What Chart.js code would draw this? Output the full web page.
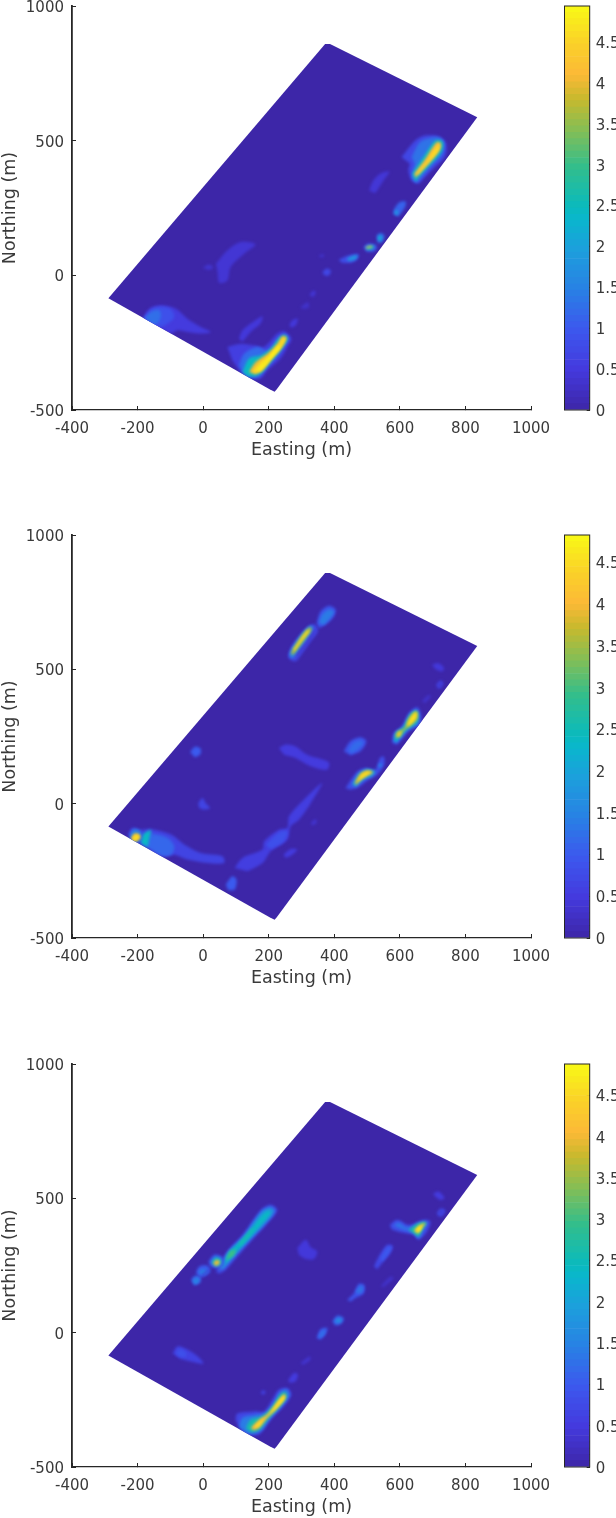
<!DOCTYPE html>
<html>
<head>
<meta charset="utf-8">
<script src="https://cdn.jsdelivr.net/npm/chart.js@4/dist/chart.umd.min.js"></script>
<style>
  html, body { margin: 0; padding: 0; background: #fff; }
  body { position: relative; width: 616px; height: 1518px; overflow: hidden; }
  canvas { position: absolute; }
</style>
</head>
<body>
<script>
const east_ticks = [-400, -200, 0, 200, 400, 600, 800, 1000];
const north_ticks = [-500, 0, 500, 1000];
const colourbar_ticks = [0, 0.5, 1, 1.5, 2, 2.5, 3, 3.5, 4, 4.5];
const colourbar_max = [4.94, 4.83, 4.88];

// survey outline, easting/northing pairs
const outline = [-289,-85, 372,859, 387,859, 836,587, 224,-424, 218,-432, 204,-424];

// contours: [value, [easting, northing, ...]], painted in the listed order
const contours_top = [
  [0.7, [605,439, 646,500, 676,519, 722,515, 742,488, 737,439, 707,402, 676,364, 656,340, 636,352, 626,389, 631,414]],
  [1.3, [636,439, 661,494, 692,510, 722,510, 735,488, 727,445, 697,408, 666,364, 651,346, 636,364, 646,414]],
  [2.4, [638,377, 671,439, 707,500, 730,498, 729,463, 697,416, 661,371, 648,348]],
  [4.1, [644,377, 676,429, 712,494, 725,491, 722,466, 689,416, 658,377, 648,362]],
  [4.6, [651,377, 681,420, 712,476, 721,486, 717,463, 685,416, 656,374]],
  [0.42, [506,315, 519,352, 540,377, 568,385, 550,352, 534,321, 524,305]],
  [1.1, [580,228, 583,247, 600,272, 618,274, 616,253, 595,218]],
  [1.8, [583,228, 587,243, 595,238, 593,222]],
  [1.2, [529,148, 540,157, 553,148, 547,124, 532,120]],
  [2.2, [532,136, 538,148, 545,142, 541,126]],
  [1.0, [489,105, 504,118, 529,111, 524,90, 499,87]],
  [2.5, [496,105, 509,111, 522,108, 514,96, 499,95]],
  [4.2, [496,105, 514,110, 516,105, 498,100]],
  [0.8, [413,58, 443,74, 474,78, 469,58, 448,46, 423,47]],
  [1.8, [438,62, 458,73, 472,73, 463,58, 443,53]],
  [0.7, [364,12, 377,25, 390,16, 382,-2, 369,0]],
  [0.35, [354,74, 367,78, 367,68, 355,68]],
  [0.4, [324,-74, 334,-58, 344,-62, 337,-80]],
  [0.5, [-184,-161, -164,-124, -129,-111, -83,-124, -48,-161, -7,-192, 23,-210, -7,-216, -48,-210, -78,-204, -98,-216, -139,-192]],
  [0.85, [-181,-158, -159,-127, -129,-117, -98,-127, -88,-155, -108,-179, -134,-192, -159,-179]],
  [1.25, [-179,-158, -159,-136, -134,-130, -129,-155, -144,-182, -164,-173]],
  [0.4, [39,43, 74,93, 115,124, 160,115, 125,80, 84,31, 74,-19, 49,-28, 44,12]],
  [0.35, [-1,28, 18,40, 31,28, 18,19]],
  [0.45, [109,-235, 120,-204, 145,-179, 181,-152, 175,-179, 145,-210, 120,-247]],
  [0.45, [263,-186, 272,-167, 289,-161, 282,-186, 269,-194]],
  [0.3, [297,-118, 320,-99, 322,-120, 302,-124]],
  [0.55, [74,-266, 115,-254, 155,-260, 186,-266, 226,-216, 247,-208, 269,-235, 257,-266, 236,-309, 196,-353, 175,-383, 145,-383, 115,-359, 89,-315]],
  [1.2, [109,-334, 125,-291, 165,-266, 196,-278, 231,-229, 249,-216, 262,-235, 247,-266, 221,-309, 191,-346, 170,-377, 140,-377, 120,-359]],
  [2.4, [120,-359, 140,-309, 175,-297, 206,-272, 234,-229, 252,-223, 257,-239, 236,-278, 206,-322, 181,-359, 160,-375, 135,-375]],
  [4.0, [140,-359, 160,-322, 196,-291, 226,-254, 241,-226, 254,-231, 241,-266, 211,-309, 181,-353, 160,-367]],
  [4.6, [150,-359, 170,-328, 201,-297, 226,-266, 245,-231, 252,-235, 236,-268, 206,-309, 178,-350, 160,-362]],
  [4.85, [166,-352, 196,-313, 231,-260, 235,-266, 201,-318, 170,-359]]
];

const contours_middle = [
  [0.7, [259,548, 267,579, 297,629, 328,666, 343,666, 350,641, 328,604, 302,560, 282,530, 265,536]],
  [1.5, [262,554, 272,583, 302,635, 326,662, 336,657, 323,622, 297,579, 277,546, 267,542]],
  [0.3, [282,551, 317,604, 340,647, 342,644, 321,600, 285,548]],
  [3.6, [267,560, 282,591, 305,632, 326,657, 331,647, 312,616, 292,583, 275,554]],
  [4.6, [274,573, 292,604, 319,647, 323,641, 302,608, 279,569]],
  [0.9, [346,672, 358,715, 383,737, 404,724, 399,697, 373,666, 353,653]],
  [1.4, [353,672, 363,703, 383,722, 399,715, 388,691, 368,666]],
  [0.45, [698,517, 718,523, 735,505, 728,492, 708,501]],
  [0.6, [711,443, 723,458, 733,449, 725,430, 715,430]],
  [0.2, [719,443, 725,449, 727,439, 721,437]],
  [0.3, [667,381, 688,405, 695,399, 677,374]],
  [0.8, [576,226, 581,263, 606,288, 627,337, 652,360, 664,337, 662,294, 627,269, 606,238, 591,219]],
  [2.2, [581,232, 586,263, 609,285, 630,334, 650,350, 658,331, 654,298, 624,275, 601,244, 591,228]],
  [3.6, [586,244, 591,267, 606,275, 617,288, 624,312, 642,340, 654,340, 652,312, 630,288, 614,273, 601,250]],
  [4.5, [591,250, 596,265, 604,269, 599,250]],
  [4.6, [620,288, 632,319, 650,343, 650,319, 632,294]],
  [0.9, [429,195, 449,232, 480,247, 498,232, 480,195, 449,180]],
  [1.2, [444,201, 459,226, 480,235, 488,226, 470,201, 451,188]],
  [0.5, [231,207, 252,220, 282,213, 317,182, 383,154, 378,126, 328,139, 282,170, 247,182]],
  [0.8, [434,58, 470,120, 495,133, 525,127, 539,170, 551,176, 553,145, 531,108, 505,89, 470,58, 449,52]],
  [2.0, [454,71, 475,114, 500,129, 525,120, 515,102, 490,89, 465,62]],
  [3.9, [462,77, 480,112, 500,123, 518,117, 500,104, 480,89, 468,70]],
  [4.6, [470,83, 485,110, 500,119, 512,117, 490,99, 475,83]],
  [1.5, [533,141, 541,151, 546,145, 539,133]],
  [0.65, [-230,-115, -215,-90, -190,-97, -159,-94, -98,-115, -58,-152, -7,-184, 59,-196, 64,-221, 13,-221, -48,-208, -88,-190, -124,-196, -169,-165, -210,-140]],
  [1.15, [-190,-146, -184,-115, -154,-112, -108,-128, -88,-159, -98,-190, -129,-193, -159,-171]],
  [2.4, [-190,-146, -181,-112, -159,-99, -164,-128, -169,-161]],
  [1.5, [-225,-124, -215,-97, -195,-99, -187,-121, -200,-144, -215,-144]],
  [4.0, [-220,-128, -210,-112, -195,-115, -192,-128, -205,-140, -215,-140]],
  [4.6, [-216,-128, -205,-115, -194,-121, -200,-134, -212,-138]],
  [0.65, [-15,2, -2,21, 8,2, 21,-16, 3,-22, -12,-16]],
  [1.0, [-40,192, -25,212, -8,205, -8,185, -25,172]],
  [0.55, [96,-239, 120,-202, 181,-171, 186,-140, 231,-97, 257,-90, 262,-47, 307,15, 363,77, 328,2, 292,-60, 267,-84, 257,-134, 206,-177, 181,-221, 135,-252]],
  [0.85, [191,-153, 231,-107, 257,-103, 246,-140, 206,-169]],
  [1.0, [69,-301, 89,-270, 102,-283, 96,-320, 76,-322]],
  [0.5, [245,-190, 267,-169, 287,-171, 272,-190, 252,-202]],
  [0.35, [328,-72, 343,-57, 346,-72, 333,-81]]
];

const contours_bottom = [
  [0.8, [39,228, 69,296, 120,364, 176,457, 206,476, 226,457, 206,420, 145,339, 105,284, 69,234, 49,219]],
  [1.7, [49,234, 74,296, 125,362, 178,451, 204,467, 218,455, 201,422, 140,343, 100,290, 64,240]],
  [2.4, [64,253, 79,298, 130,358, 181,439, 201,455, 206,445, 191,420, 135,346, 95,296]],
  [3.0, [69,269, 82,302, 100,308, 93,286]],
  [2.6, [105,327, 150,389, 155,385, 117,327]],
  [1.0, [16,265, 34,290, 59,281, 62,253, 44,240, 22,244]],
  [2.4, [24,261, 37,281, 54,274, 54,255, 39,246]],
  [4.0, [31,259, 41,271, 51,265, 47,253, 36,249]],
  [1.0, [-22,222, -12,246, 14,249, 22,228, 3,209, -12,207]],
  [1.4, [-15,228, -2,236, 12,234, 8,219, -7,215]],
  [0.3, [-5,212, 16,236, 19,234, -2,209]],
  [1.1, [-37,197, -25,212, -7,207, -9,187, -27,176]],
  [1.5, [-32,194, -22,204, -12,199, -17,184, -27,182]],
  [0.45, [287,315, 313,346, 328,318, 348,302, 338,274, 313,274, 292,290]],
  [0.8, [569,401, 592,420, 627,401, 673,420, 693,414, 683,377, 657,346, 642,364, 602,374, 576,383]],
  [1.3, [581,399, 597,410, 617,393, 637,393, 662,410, 683,410, 673,383, 657,352, 642,370, 607,385]],
  [2.6, [627,383, 657,408, 681,410, 668,383, 657,358, 642,370]],
  [4.3, [642,380, 660,401, 678,408, 665,385, 655,368]],
  [4.8, [650,383, 662,395, 668,393, 658,373]],
  [0.5, [701,517, 718,525, 736,501, 723,494, 708,507]],
  [0.7, [713,447, 725,463, 739,455, 728,432, 716,435]],
  [0.3, [721,451, 728,455, 729,445, 723,442]],
  [0.7, [521,246, 536,284, 561,327, 579,323, 571,296, 546,259, 531,236]],
  [1.0, [541,277, 563,318, 574,318, 566,296, 546,265]],
  [0.3, [541,172, 571,209, 581,203, 551,170]],
  [0.9, [439,122, 460,147, 475,182, 492,178, 490,147, 465,129, 450,116]],
  [1.3, [465,153, 478,174, 488,170, 485,150, 470,145]],
  [1.1, [394,42, 409,64, 429,54, 421,33, 404,26]],
  [1.7, [401,42, 411,54, 424,48, 414,36]],
  [1.0, [346,-20, 358,13, 379,17, 373,-8, 358,-26]],
  [1.3, [353,-14, 363,5, 373,8, 366,-10, 356,-20]],
  [0.6, [-93,-78, -78,-51, -48,-63, -17,-88, 1,-115, -27,-110, -68,-98]],
  [0.85, [-83,-78, -73,-61, -53,-73, -53,-90, -73,-90]],
  [0.7, [99,-324, 104,-301, 155,-293, 186,-293, 211,-249, 231,-212, 257,-206, 269,-231, 246,-274, 216,-311, 191,-348, 170,-379, 135,-379, 110,-355]],
  [1.4, [110,-348, 120,-317, 165,-305, 196,-293, 221,-249, 236,-218, 255,-212, 263,-234, 236,-280, 206,-317, 181,-361, 155,-376, 130,-373]],
  [2.6, [130,-355, 145,-324, 181,-311, 211,-274, 234,-231, 251,-222, 255,-239, 226,-284, 196,-324, 170,-363, 145,-371]],
  [4.1, [145,-355, 170,-324, 201,-299, 231,-249, 248,-228, 251,-243, 226,-280, 196,-317, 170,-355, 155,-363]],
  [4.7, [155,-351, 181,-324, 206,-293, 236,-247, 248,-234, 246,-249, 221,-284, 191,-314, 170,-348]],
  [0.5, [259,-177, 277,-150, 289,-156, 282,-181, 265,-187]],
  [0.6, [175,-222, 184,-214, 191,-224, 182,-232]],
  [0.35, [297,-113, 326,-88, 326,-103, 305,-120]]
];

// colour map: fraction, r, g, b
const colour_stops = [
  [0, 61, 38, 168], [0.1, 68, 58, 222], [0.2, 60, 88, 238], [0.3, 40, 130, 228],
  [0.4, 28, 160, 220], [0.47, 10, 182, 205], [0.5, 10, 186, 190], [0.6, 50, 190, 140],
  [0.7, 140, 190, 80], [0.77, 200, 185, 45], [0.83, 252, 185, 55], [0.91, 250, 210, 40],
  [1, 249, 251, 21]
];

const text_colour = "#3a3a3a";
const axis_colour = "#262626";

Chart.defaults.font.family = "'DejaVu Sans'";
Chart.defaults.color = text_colour;
Chart.defaults.animation = false;

function colourAt(fraction) {
  const f = Math.min(1, Math.max(0, fraction));
  for (let i = 1; i < colour_stops.length; i++) {
    const a = colour_stops[i - 1], b = colour_stops[i];
    if (f <= b[0]) {
      const t = (f - a[0]) / (b[0] - a[0]);
      const mix = (k) => Math.round(a[k] + (b[k] - a[k]) * t);
      return `rgb(${mix(1)},${mix(2)},${mix(3)})`;
    }
  }
  return "rgb(249,251,21)";
}

function toPoints(flat) {
  const points = [];
  for (let i = 0; i < flat.length; i += 2) points.push({x: flat[i], y: flat[i + 1]});
  return points;
}

function addCanvas(left, top, width, height) {
  const canvas = document.createElement("canvas");
  canvas.width = width;
  canvas.height = height;
  canvas.style.left = left + "px";
  canvas.style.top = top + "px";
  canvas.style.width = width + "px";
  canvas.style.height = height + "px";
  document.body.appendChild(canvas);
  return canvas.getContext("2d");
}

// tick labels may hang over the plot edges, so the scales ask for no extra room
function noScalePadding(scale) {
  scale.paddingTop = 0;
  scale.paddingBottom = 0;
  scale.paddingLeft = 0;
  scale.paddingRight = 0;
}

// contours are clipped to the outline and softened, the outline itself stays sharp
const softContours = {
  id: "softContours",
  afterDatasetDraw(chart, args) {
    if (args.index !== 0) return;
    const {x, y} = chart.scales;
    const ctx = chart.ctx;
    ctx.save();
    ctx.beginPath();
    toPoints(outline).forEach((p, i) => {
      if (i === 0) ctx.moveTo(x.getPixelForValue(p.x), y.getPixelForValue(p.y));
      else ctx.lineTo(x.getPixelForValue(p.x), y.getPixelForValue(p.y));
    });
    ctx.closePath();
    ctx.clip();
    ctx.filter = "blur(1.5px)";
  },
  afterDatasetsDraw(chart) {
    chart.ctx.restore();
  }
};

function createMap({top, plot_bottom, contours}) {
  const total = contours.length;
  const datasets = [{
    data: toPoints(outline),
    fill: "shape",
    backgroundColor: colourAt(0),
    borderWidth: 0,
    pointRadius: 0,
    tension: 0,
    order: total + 1
  }];
  contours.forEach(([value, flat], i) => {
    datasets.push({
      data: toPoints(flat),
      fill: "shape",
      backgroundColor: colourAt(value / 4.9),
      borderWidth: 0,
      pointRadius: 0,
      tension: 0.3,
      order: total - i
    });
  });

  return new Chart(addCanvas(0, top, 560, plot_bottom + 60), {
    type: "line",
    data: {datasets},
    plugins: [softContours],
    options: {
      responsive: false,
      layout: {padding: {top: 6, right: 29, left: 0, bottom: 0}},
      plugins: {legend: {display: false}, tooltip: {enabled: false}},
      scales: {
        x: {
          type: "linear",
          min: -400,
          max: 1000,
          afterBuildTicks: (s) => { s.ticks = east_ticks.map(v => ({value: v})); },
          afterFit: (s) => { s.height = 60; noScalePadding(s); },
          border: {color: axis_colour, width: 1.2},
          grid: {drawOnChartArea: false, color: axis_colour, tickLength: -4},
          ticks: {padding: 14, maxRotation: 0, autoSkip: false, font: {size: 15}, callback: v => String(v)},
          title: {display: true, text: "Easting (m)", font: {size: 17.5}, padding: {top: 0, bottom: 9}}
        },
        y: {
          type: "linear",
          min: -500,
          max: 1000,
          afterBuildTicks: (s) => { s.ticks = north_ticks.map(v => ({value: v})); },
          afterFit: (s) => { s.width = 72; noScalePadding(s); },
          border: {color: axis_colour, width: 1.8},
          grid: {drawOnChartArea: false, color: axis_colour, tickLength: -4},
          ticks: {padding: 12, labelOffset: 2, autoSkip: false, font: {size: 15}, callback: v => String(v)},
          title: {display: true, text: "Northing (m)", font: {size: 17.5}, padding: {top: 0, bottom: 0}}
        }
      }
    }
  });
}

const colourbarFrame = {
  id: "colourbarFrame",
  afterDraw(chart) {
    const {left, top, width, height} = chart.chartArea;
    const ctx = chart.ctx;
    ctx.save();
    ctx.strokeStyle = axis_colour;
    ctx.lineWidth = 1;
    ctx.strokeRect(left, top, width, height);
    ctx.restore();
  }
};

function createColourbar({top, plot_bottom, max}) {
  const steps = 64;
  const datasets = [];
  for (let i = 0; i < steps; i++) {
    datasets.push({
      data: [max / steps],
      backgroundColor: colourAt((i + 0.5) / steps),
      borderWidth: 0,
      barPercentage: 1,
      categoryPercentage: 1
    });
  }

  return new Chart(addCanvas(540, top, 76, plot_bottom + 14), {
    type: "bar",
    data: {labels: [""], datasets},
    plugins: [colourbarFrame],
    options: {
      responsive: false,
      layout: {padding: {top: 6, left: 24.5, right: 0, bottom: 0}},
      plugins: {legend: {display: false}, tooltip: {enabled: false}},
      scales: {
        x: {
          stacked: true,
          display: true,
          afterFit: (s) => { s.height = 14; noScalePadding(s); },
          grid: {display: false},
          border: {display: false},
          ticks: {display: false}
        },
        y: {
          stacked: true,
          position: "right",
          min: 0,
          max: max,
          afterBuildTicks: (s) => { s.ticks = colourbar_ticks.map(v => ({value: v})); },
          afterFit: (s) => { s.width = 26.3; noScalePadding(s); },
          border: {display: false},
          grid: {drawOnChartArea: false, color: axis_colour, tickLength: -3},
          ticks: {padding: 9, labelOffset: 2, autoSkip: false, font: {size: 15}, callback: v => String(v)}
        }
      }
    }
  });
}

createMap({top: 0, plot_bottom: 410, contours: contours_top});
createMap({top: 529, plot_bottom: 409, contours: contours_middle});
createMap({top: 1058, plot_bottom: 409, contours: contours_bottom});

createColourbar({top: 0, plot_bottom: 410, max: colourbar_max[0]});
createColourbar({top: 529, plot_bottom: 409, max: colourbar_max[1]});
createColourbar({top: 1058, plot_bottom: 409, max: colourbar_max[2]});
</script>
</body>
</html>
